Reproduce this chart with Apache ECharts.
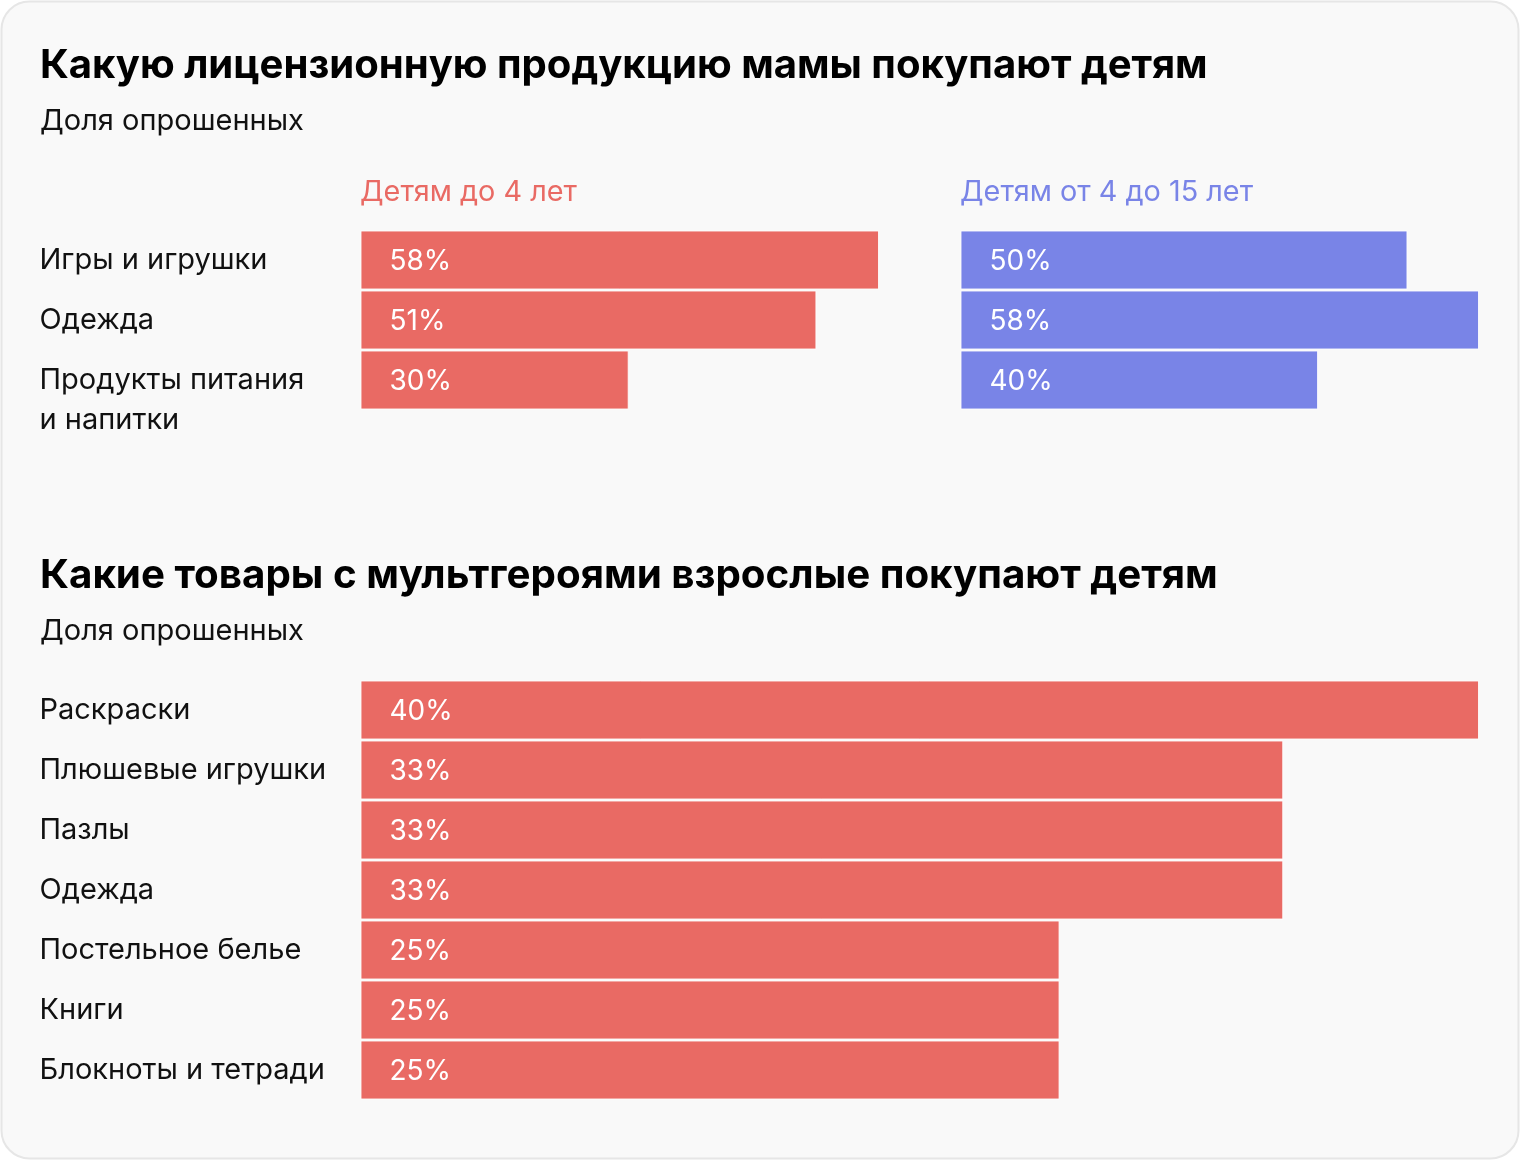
<!DOCTYPE html>
<html>
<head>
<meta charset="utf-8">
<script src="https://cdn.jsdelivr.net/npm/echarts@6/dist/echarts.min.js"></script>
<style>
html,body{margin:0;padding:0;background:#ffffff;}
#c{width:1520px;height:1160px;}
</style>
</head>
<body>
<div id="c"></div>
<script>
// ---- data ----
const title1 = 'Какую лицензионную продукцию мамы покупают детям';
const title2 = 'Какие товары с мультгероями взрослые покупают детям';
const subtitle = 'Доля опрошенных';
const groupNames = ['Детям до 4 лет', 'Детям от 4 до 15 лет'];
const categories1 = ['Игры и игрушки', 'Одежда', 'Продукты питания\nи напитки'];
const valuesUnder4 = [58, 51, 30];
const values4to15 = [50, 58, 40];
const categories2 = ['Раскраски', 'Плюшевые игрушки', 'Пазлы', 'Одежда', 'Постельное белье', 'Книги', 'Блокноты и тетради'];
const values2 = [40, 33, 33, 33, 25, 25, 25];

const RED = '#E96A64';
const BLUE = '#7984E7';
const FONT = 'Inter, "Noto Sans", sans-serif';

const chart = echarts.init(document.getElementById('c'), null, {renderer: 'canvas'});

function catAxis(gridIndex, data, showLabels) {
  return {
    type: 'category', gridIndex: gridIndex, data: data, inverse: true,
    axisLine: {show: false}, axisTick: {show: false}, splitLine: {show: false},
    axisLabel: {
      show: showLabels, interval: 0, hideOverlap: false, align: 'left', margin: 321,
      color: '#111111', fontFamily: FONT, fontSize: 29, lineHeight: 40,
      padding: [4, 0, 0, 0],
      formatter: v => (v.indexOf('\n') >= 0 ? '\n' + v : v)
    }
  };
}
function valAxis(gridIndex, max) {
  return {
    type: 'value', gridIndex: gridIndex, min: 0, max: max, show: false,
    splitLine: {show: false}
  };
}
function barSeries(idx, values, color) {
  return {
    type: 'bar', xAxisIndex: idx, yAxisIndex: idx, data: values,
    barWidth: 59, silent: true,
    itemStyle: {color: color, borderColor: 'rgba(255,255,255,0.85)', borderWidth: 1},
    label: {
      show: true, position: 'insideLeft', distance: 29, offset: [0, 2],
      formatter: p => p.value + '%',
      color: '#ffffff', fontFamily: FONT, fontSize: 28
    }
  };
}
function txt(x, y, text, size, weight, color) {
  return {
    type: 'text', x: x, y: y, silent: true,
    style: {text: text, fill: color, font: weight + ' ' + size + 'px ' + FONT, verticalAlign: 'middle', align: 'left'}
  };
}

const top1Max = Math.max(...valuesUnder4, ...values4to15);
const top2Max = Math.max(...values2);

chart.setOption({
  animation: false,
  backgroundColor: '#ffffff',
  grid: [
    {left: 360.5, top: 230, width: 518.5, height: 180},
    {left: 960.5, top: 230, width: 518.5, height: 180},
    {left: 360.5, top: 680, width: 1118.5, height: 420}
  ],
  xAxis: [valAxis(0, top1Max), valAxis(1, top1Max), valAxis(2, top2Max)],
  yAxis: [catAxis(0, categories1, true), catAxis(1, categories1, false), catAxis(2, categories2, true)],
  series: [
    barSeries(0, valuesUnder4, RED),
    barSeries(1, values4to15, BLUE),
    barSeries(2, values2, RED)
  ],
  graphic: [
    {type: 'rect', z: -10, silent: true, shape: {x: 1.5, y: 1.5, width: 1517, height: 1157, r: 28},
     style: {fill: '#f9f9f9', stroke: '#e6e6e6', lineWidth: 2}},
    txt(40, 66, title1, 40.1, 'bold', '#000000'),
    txt(40, 121, subtitle, 29, 'normal', '#111111'),
    txt(360, 192, groupNames[0], 28.8, 'normal', RED),
    txt(960, 192, groupNames[1], 28.8, 'normal', BLUE),
    txt(40, 576, title2, 40.3, 'bold', '#000000'),
    txt(40, 631, subtitle, 29, 'normal', '#111111')
  ]
});
</script>
</body>
</html>
